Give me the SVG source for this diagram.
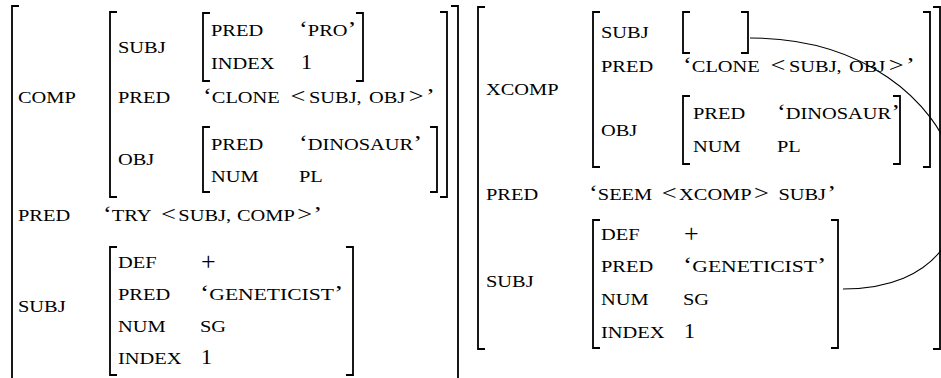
<svg xmlns="http://www.w3.org/2000/svg" width="941" height="378" viewBox="0 0 941 378">
<style>
.sc{font-family:"Liberation Serif","Times New Roman",serif;font-size:17px;fill:#000}
.q{font-size:22px}
.m{font-size:22px}
.pl{font-family:"Liberation Serif","Times New Roman",serif;font-size:26px;fill:#000}
.br{fill:none;stroke:#000;stroke-width:1.8}
.link{fill:none;stroke:#000;stroke-width:1.1}
</style>
<rect width="941" height="378" fill="#fff"/>

<g id="avm-left">
  <path class="br" d="M19,6H12V380"/>
  <path class="br" d="M451,6H458V380"/>
  <text class="sc" transform="translate(18 103) scale(1.2 1)">COMP</text>
  <text class="sc" transform="translate(18 221) scale(1.2 1)">PRED</text>
  <text class="sc" transform="translate(103 221) scale(1.2 1)"><tspan class="q">‘</tspan>TRY<tspan class="m" dx="8">&lt;</tspan><tspan dx="2">SUBJ,</tspan><tspan dx="5">COMP</tspan><tspan class="m" dx="2">&gt;</tspan><tspan class="q" dx="1">’</tspan></text>
  <text class="sc" transform="translate(18 312) scale(1.2 1)">SUBJ</text>
</g>

<g id="left-comp">
  <path class="br" d="M117,12H110V197H117"/>
  <path class="br" d="M440,12H447V197H440"/>
  <text class="sc" transform="translate(118 53) scale(1.2 1)">SUBJ</text>
  <text class="sc" transform="translate(118 103) scale(1.2 1)">PRED</text>
  <text class="sc" transform="translate(203 103) scale(1.2 1)"><tspan class="q">‘</tspan>CLONE<tspan class="m" dx="9">&lt;</tspan><tspan dx="3">SUBJ,</tspan><tspan dx="6">OBJ</tspan><tspan class="m" dx="3">&gt;</tspan><tspan class="q" dx="2">’</tspan></text>
  <text class="sc" transform="translate(118 165) scale(1.2 1)">OBJ</text>
</g>

<g id="left-comp-subj">
  <path class="br" d="M210,13H203V81H210"/>
  <path class="br" d="M356,13H363V81H356"/>
  <text class="sc" transform="translate(211 36) scale(1.2 1)">PRED</text>
  <text class="sc" transform="translate(299 36) scale(1.2 1)"><tspan class="q">‘</tspan>PRO<tspan class="q">’</tspan></text>
  <text class="sc" transform="translate(211 69) scale(1.2 1)">INDEX</text>
  <text class="sc q" x="301" y="69">1</text>
</g>

<g id="left-comp-obj">
  <path class="br" d="M210,127H203V192H210"/>
  <path class="br" d="M430,127H437V192H430"/>
  <text class="sc" transform="translate(211 150) scale(1.2 1)">PRED</text>
  <text class="sc" transform="translate(299 150) scale(1.2 1)"><tspan class="q">‘</tspan>DINOSAUR<tspan class="q">’</tspan></text>
  <text class="sc" transform="translate(211 182) scale(1.2 1)">NUM</text>
  <text class="sc" transform="translate(299 182) scale(1.2 1)">PL</text>
</g>

<g id="left-subj">
  <path class="br" d="M117,247H110V375H117"/>
  <path class="br" d="M346,247H353V375H346"/>
  <text class="sc" transform="translate(118 268) scale(1.2 1)">DEF</text>
  <text class="pl" x="201" y="270">+</text>
  <text class="sc" transform="translate(118 300) scale(1.2 1)">PRED</text>
  <text class="sc" transform="translate(200 300) scale(1.27 1)"><tspan class="q">‘</tspan>GENETICIST<tspan class="q">’</tspan></text>
  <text class="sc" transform="translate(118 332) scale(1.2 1)">NUM</text>
  <text class="sc" transform="translate(200 332) scale(1.2 1)">SG</text>
  <text class="sc" transform="translate(118 364) scale(1.2 1)">INDEX</text>
  <text class="sc q" x="201" y="364">1</text>
</g>

<g id="avm-right">
  <path class="br" d="M485,7H478V349H485"/>
  <path class="br" d="M933,7H940V349H933"/>
  <text class="sc" transform="translate(486 95) scale(1.2 1)">XCOMP</text>
  <text class="sc" transform="translate(486 200) scale(1.2 1)">PRED</text>
  <text class="sc" transform="translate(589 200) scale(1.2 1)"><tspan class="q">‘</tspan>SEEM<tspan class="m" dx="8">&lt;</tspan><tspan dx="2">XCOMP</tspan><tspan class="m" dx="2">&gt;</tspan><tspan dx="8">SUBJ</tspan><tspan class="q" dx="1">’</tspan></text>
  <text class="sc" transform="translate(486 287) scale(1.2 1)">SUBJ</text>
</g>

<g id="right-xcomp">
  <path class="br" d="M600,12H593V167H600"/>
  <path class="br" d="M923,12H930V167H923"/>
  <text class="sc" transform="translate(601 38) scale(1.2 1)">SUBJ</text>
  <text class="sc" transform="translate(601 72) scale(1.2 1)">PRED</text>
  <text class="sc" transform="translate(683 72) scale(1.2 1)"><tspan class="q">‘</tspan>CLONE<tspan class="m" dx="9">&lt;</tspan><tspan dx="3">SUBJ,</tspan><tspan dx="6">OBJ</tspan><tspan class="m" dx="3">&gt;</tspan><tspan class="q" dx="2">’</tspan></text>
  <text class="sc" transform="translate(601 136) scale(1.2 1)">OBJ</text>
</g>

<g id="right-xcomp-subj">
  <path class="br" d="M690,12H683V53H690"/>
  <path class="br" d="M741,12H748V53H741"/>
</g>

<g id="right-xcomp-obj">
  <path class="br" d="M690,96H683V164H690"/>
  <path class="br" d="M893,96H900V164H893"/>
  <text class="sc" transform="translate(693 119) scale(1.2 1)">PRED</text>
  <text class="sc" transform="translate(777 119) scale(1.2 1)"><tspan class="q">‘</tspan>DINOSAUR<tspan class="q">’</tspan></text>
  <text class="sc" transform="translate(693 152) scale(1.2 1)">NUM</text>
  <text class="sc" transform="translate(777 152) scale(1.2 1)">PL</text>
</g>

<g id="right-subj">
  <path class="br" d="M600,220H593V348H600"/>
  <path class="br" d="M831,220H838V348H831"/>
  <text class="sc" transform="translate(601 240) scale(1.2 1)">DEF</text>
  <text class="pl" x="684" y="242">+</text>
  <text class="sc" transform="translate(601 272) scale(1.2 1)">PRED</text>
  <text class="sc" transform="translate(683 272) scale(1.27 1)"><tspan class="q">‘</tspan>GENETICIST<tspan class="q">’</tspan></text>
  <text class="sc" transform="translate(601 305) scale(1.2 1)">NUM</text>
  <text class="sc" transform="translate(683 305) scale(1.2 1)">SG</text>
  <text class="sc" transform="translate(601 338) scale(1.2 1)">INDEX</text>
  <text class="sc q" x="684" y="338">1</text>
</g>

<g id="connectors">
  <path class="link" d="M750,38C978,38 1035,289 843,289"/>
</g>
</svg>
